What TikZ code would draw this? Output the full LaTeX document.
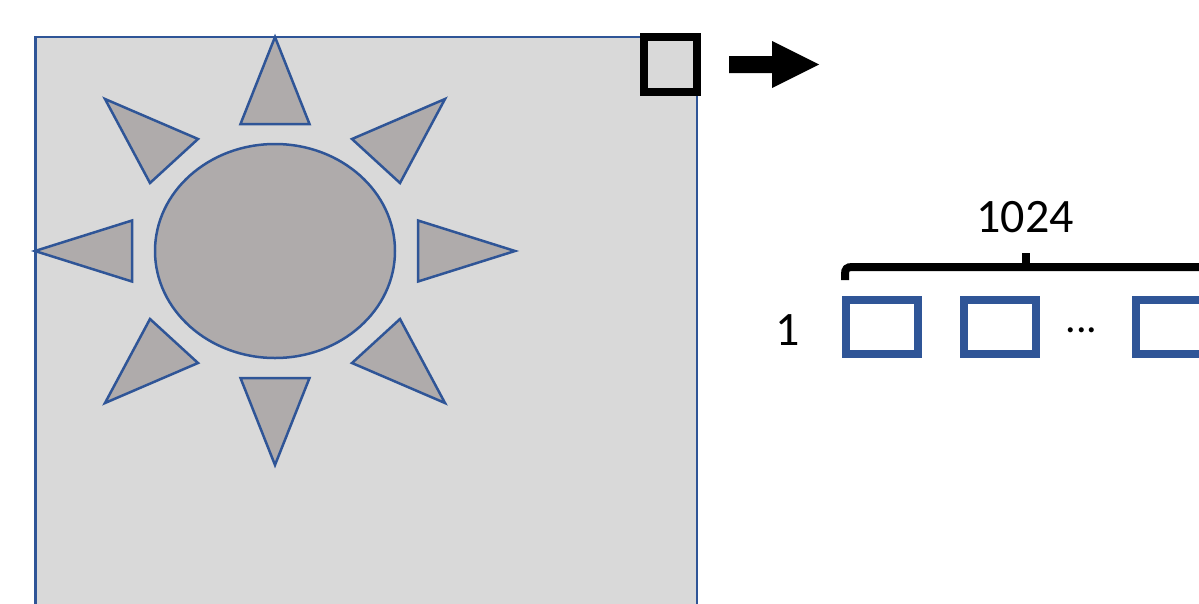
\documentclass[tikz,border=0pt]{standalone}
\usepackage{fontspec}
\setmainfont{Carlito}
\definecolor{bl}{HTML}{2F5597}
\definecolor{lg}{HTML}{D9D9D9}
\definecolor{dg}{HTML}{AFABAB}
\tikzset{x=1pt,y=-1pt,
 sunp/.style={draw=bl,fill=dg,line width=2.5pt,line join=miter},
 cell/.style={draw=bl,line width=8pt},
 lab/.style={font=\fontsize{48}{48}\selectfont,text=black,inner sep=0pt,anchor=base}}
\begin{document}
\begin{tikzpicture}
\useasboundingbox (0,0) rectangle (1199,603);
\begin{scope}
\clip (0,0) rectangle (1199,603);
\draw[draw=bl,fill=lg,line width=2.5pt] (35.5,37) rectangle (697,640);
\draw[sunp] (275,251) ellipse [x radius=120,y radius=107];
\draw[sunp] (275,37) -- (309.5,124) -- (240.5,124) -- cycle;
\draw[sunp] (275,465) -- (309.5,378) -- (240.5,378) -- cycle;
\draw[sunp] (35,251) -- (132,220.5) -- (132,281.5) -- cycle;
\draw[sunp] (515,251) -- (418,220.5) -- (418,281.5) -- cycle;
\draw[sunp] (105,99) -- (198,139) -- (150,183) -- cycle;
\draw[sunp] (445,99) -- (352,139) -- (400,183) -- cycle;
\draw[sunp] (105,403) -- (198,363) -- (150,319) -- cycle;
\draw[sunp] (445,403) -- (352,363) -- (400,319) -- cycle;
\draw[black,line width=8pt] (644,37) rectangle (697,91.5);
\fill[black] (729,56) -- (772,56) -- (772,41) -- (819,64.5) -- (772,88) -- (772,73) -- (729,73) -- cycle;
\draw[black,line width=8pt] (845,280) -- (845,274) .. controls (845,269) and (847,267) .. (852,267) -- (1210,267);
\draw[black,line width=8pt] (1026,253) -- (1026,267);
\draw[cell] (846,300) rectangle (918,354);
\draw[cell] (964,300) rectangle (1036,354);
\draw[cell] (1136,300) rectangle (1208,354);
\end{scope}
\node[lab] (n1024) at (1025,232) {1024};
\node[lab] (n1) at (788,345) {1};
\node[lab,font=\fontsize{42}{42}\selectfont] (dots) at (1081.5,332) {...};
\end{tikzpicture}
\end{document}
